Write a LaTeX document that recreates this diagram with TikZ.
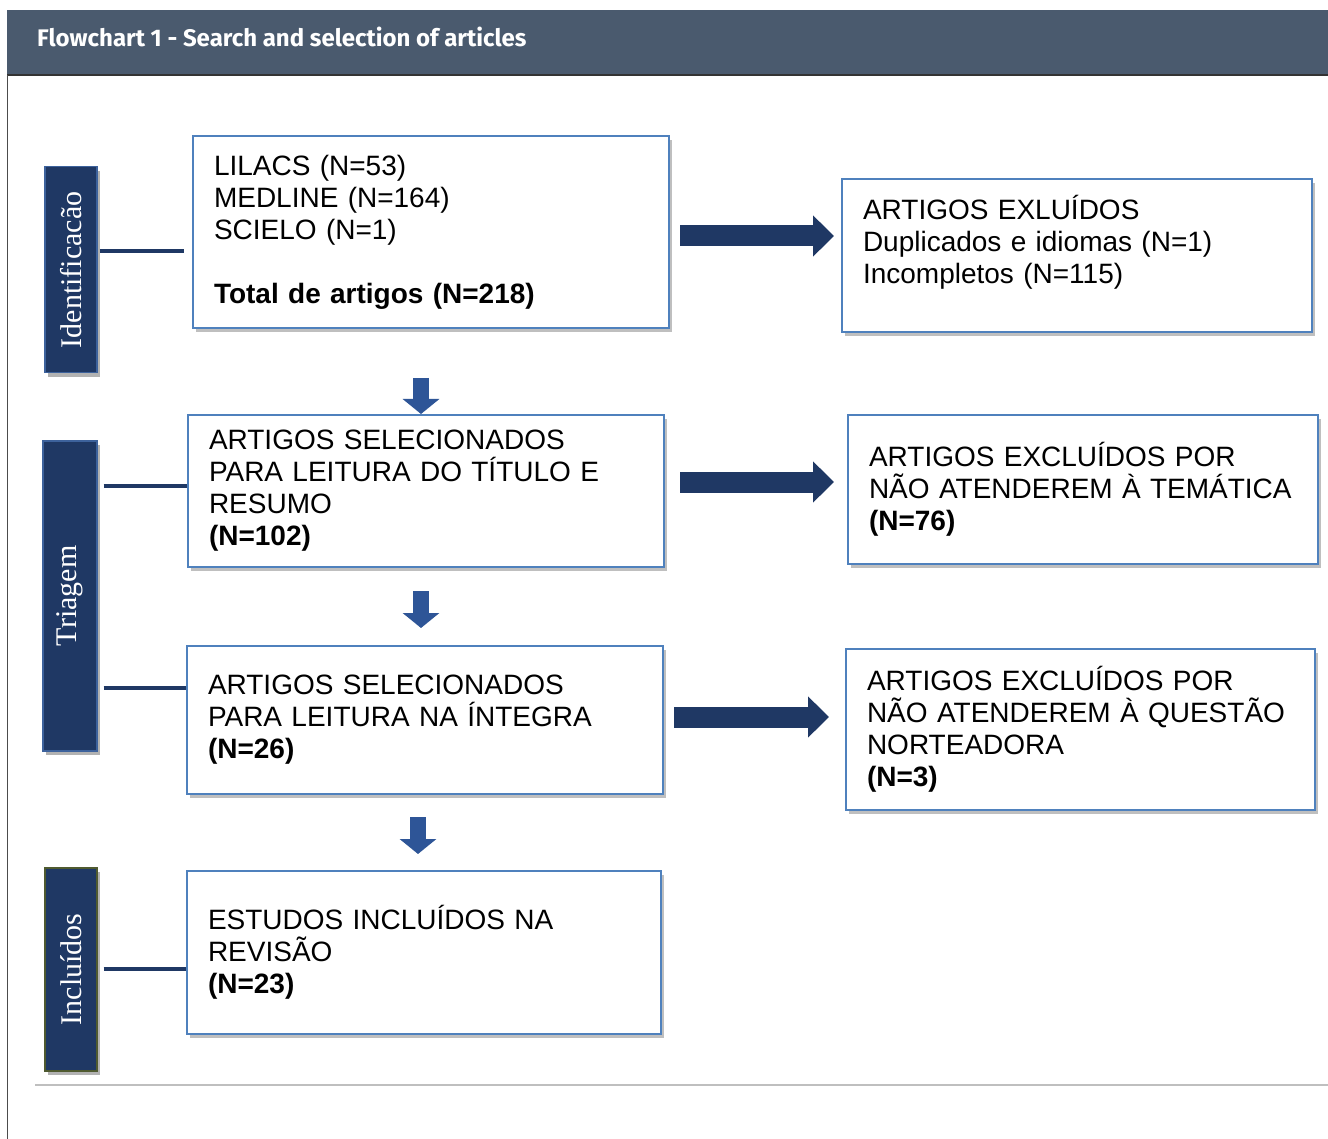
\documentclass[tikz,border=0pt]{standalone}
\usepackage{fontspec}
\setmainfont{Liberation Sans}
\newfontfamily\titlefont{Fira Sans}
\newfontfamily\sidefont{Liberation Serif}
\usetikzlibrary{calc,shadows,arrows.meta}
\definecolor{hdr}{HTML}{4A5A6E}
\definecolor{navy}{HTML}{1F3864}
\definecolor{navyedge}{HTML}{3D629C}
\definecolor{boxblue}{HTML}{4F81BD}
\definecolor{downblue}{HTML}{2E5597}
\definecolor{olive}{HTML}{4F5A30}
\tikzset{
  mainbox/.style={draw=boxblue, line width=2pt, fill=white, anchor=north west,
    align=left, inner xsep=21pt, inner ysep=0pt,
    font=\fontsize{28}{32}\selectfont,
    drop shadow={shadow xshift=3pt, shadow yshift=-4pt, opacity=0.25, fill=black}},
  sidebox/.style={draw=navyedge, line width=1.5pt, fill=navy, anchor=north west,
    drop shadow={shadow xshift=3pt, shadow yshift=-4pt, opacity=0.3, fill=black}},
  sidetext/.style={text=white, rotate=90, font=\sidefont\fontsize{30}{32}\selectfont, inner sep=0pt},
  sideline/.style={draw=navy, line width=4pt},
  bigarrow/.style={draw=navy, line width=21pt, -{Triangle[length=21pt,width=40pt]}},
  downarrow/.style={draw=downblue, line width=16pt, -{Triangle[length=15pt,width=36pt]}}
}
\begin{document}
\begin{tikzpicture}[x=1pt,y=-1pt]
\useasboundingbox (0,0) rectangle (1328,1139);
\fill[white] (0,0) rectangle (1328,1139);
% header
\fill[hdr] (7,10) rectangle (1328,75);
\draw[black!80, line width=1.2pt] (7,75) -- (1328,75);
\draw[black!70, line width=1pt] (7,75) -- (7,1139);
\node[anchor=base west, text=white, font=\titlefont\bfseries\fontsize{24}{28}\selectfont, inner sep=0pt] (title) at (37,47) {Flowchart 1 - Search and selection of articles};
\draw[black!25, line width=1.2pt] (35,1085) -- (1328,1085);

% side boxes
\node[sidebox, minimum width=52pt, minimum height=206pt] (S1) at (44,166) {};
\node[sidetext] (S1t) at (S1.center) {Identificacão};
\node[sidebox, minimum width=54pt, minimum height=310pt] (S2) at (42,440) {};
\node[sidetext] (S2t) at (S2.center) {Triagem};
\node[sidebox, draw=olive, minimum width=52pt, minimum height=203pt] (S3) at (44,867) {};
\node[sidetext] (S3t) at (S3.center) {Incluídos};

% main boxes
\node[mainbox, text width=434pt, minimum height=192pt] (B1) at (192,135)
  {LILACS (N=53)\\MEDLINE (N=164)\\SCIELO (N=1)\\[32pt]\textbf{Total de artigos (N=218)}};
\node[mainbox, text width=434pt, minimum height=152pt] (B2) at (187,414)
  {ARTIGOS SELECIONADOS\\PARA LEITURA DO TÍTULO E\\RESUMO\\\textbf{(N=102)}};
\node[mainbox, text width=434pt, minimum height=148pt] (B3) at (186,645)
  {ARTIGOS SELECIONADOS\\PARA LEITURA NA ÍNTEGRA\\\textbf{(N=26)}};
\node[mainbox, text width=432pt, minimum height=163pt] (B4) at (186,870)
  {ESTUDOS INCLUÍDOS NA\\REVISÃO\\\textbf{(N=23)}};

% right boxes
\node[mainbox, text width=428pt, minimum height=153pt] (R1) at (841,178)
  {ARTIGOS EXLUÍDOS\\Duplicados e idiomas (N=1)\\Incompletos (N=115)\\\mbox{}};
\node[mainbox, text width=428pt, minimum height=149pt] (R2) at (847,414)
  {ARTIGOS EXCLUÍDOS POR\\NÃO ATENDEREM À TEMÁTICA\\\textbf{(N=76)}};
\node[mainbox, text width=427pt, minimum height=161pt] (R3) at (845,648)
  {ARTIGOS EXCLUÍDOS POR\\NÃO ATENDEREM À QUESTÃO\\NORTEADORA\\\textbf{(N=3)}};

% side connector lines
\coordinate (c1) at ($(S1.east)+(2,-19)$);
\draw[sideline] (c1) -- ($(c1 -| B1.west)+(-8,0)$);
\coordinate (c2) at ($(S2.east)+(6,-110)$);
\draw[sideline] (c2) -- (c2 -| B2.west);
\coordinate (c3) at ($(S2.east)+(6,92)$);
\draw[sideline] (c3) -- (c3 -| B3.west);
\coordinate (c4) at ($(S3.east)+(6,0)$);
\draw[sideline] (c4) -- (c4 -| B4.west);

% right arrows
\coordinate (a1) at ($(B1.east)+(10,4)$);
\draw[bigarrow] (a1) -- ($(a1 -| R1.west)+(-7,0)$);
\coordinate (a2) at ($(B2.east)+(15,-9)$);
\draw[bigarrow] (a2) -- ($(a2 -| R2.west)+(-13,0)$);
\coordinate (a3) at ($(B3.east)+(10,-3)$);
\draw[bigarrow] (a3) -- ($(a3 -| R3.west)+(-16,0)$);

% down arrows
\draw[downarrow] ($(B2.north)+(-5,-36)$) -- ($(B2.north)+(-5,0)$);
\draw[downarrow] ($(B3.north)+(-4,-54)$) -- ($(B3.north)+(-4,-17)$);
\draw[downarrow] ($(B4.north)+(-6,-53)$) -- ($(B4.north)+(-6,-16)$);
\end{tikzpicture}
\end{document}
